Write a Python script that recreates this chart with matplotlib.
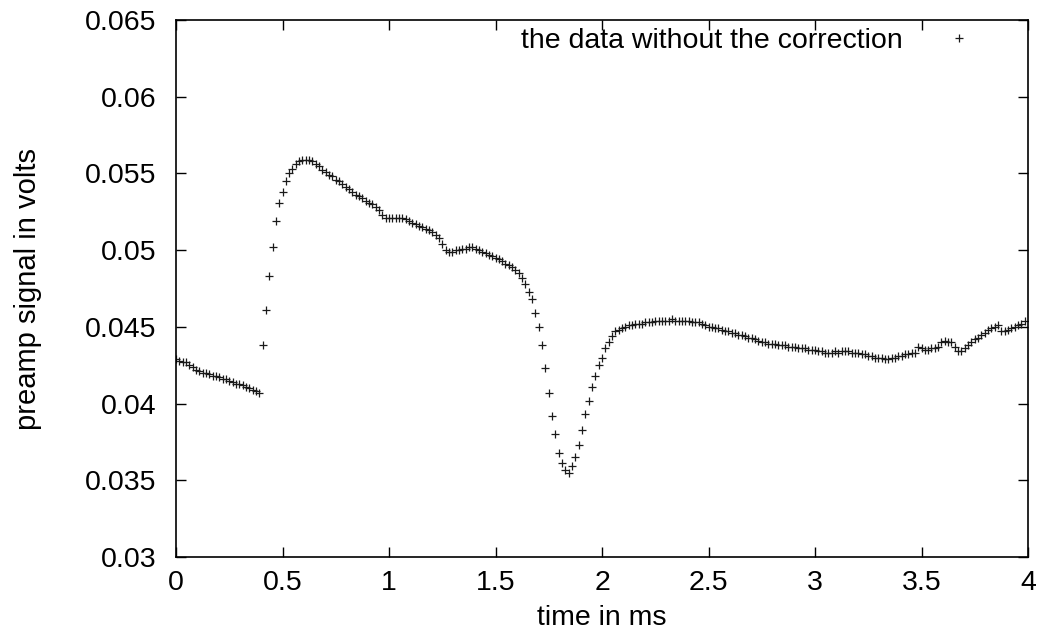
import numpy as np
import matplotlib
matplotlib.use("Agg")
import matplotlib.pyplot as plt

plt.rcParams['font.family'] = ['Liberation Sans', 'DejaVu Sans']

# sample spacing: 1/64 ms
dt = 1.0 / 64.0

signal = [
    # 0.000 - 0.391
    0.0429, 0.0428, 0.0427, 0.0427, 0.0425, 0.0424, 0.0422, 0.0421, 0.0420, 0.0420,
    0.0419, 0.0418, 0.0418, 0.0417, 0.0416, 0.0416, 0.0415, 0.0414, 0.0413, 0.0413,
    0.0412, 0.0411, 0.0410, 0.0409, 0.0408, 0.0407,
    # rise 0.406 - 0.609
    0.0438, 0.0461, 0.0483, 0.0502, 0.0519, 0.0531, 0.0538, 0.0545, 0.0550, 0.0553,
    0.0556, 0.0558, 0.0559, 0.0559,
    # 0.625 - 0.984
    0.05585, 0.0558, 0.0556, 0.0555, 0.0552, 0.0551, 0.0549, 0.0548, 0.0546, 0.0545,
    0.0543, 0.0541, 0.0540, 0.0538, 0.0536, 0.0535, 0.0534, 0.0532, 0.0531, 0.0530,
    0.0528, 0.0526, 0.0523, 0.0521,
    # 1.000 - 1.234
    0.0521, 0.0521, 0.0521, 0.0521, 0.0521, 0.0520, 0.0519, 0.0518, 0.0517, 0.0516,
    0.0515, 0.0514, 0.0513, 0.0512, 0.0510, 0.0508,
    # 1.250 - 1.484
    0.0504, 0.0500, 0.0499, 0.0499, 0.0500, 0.0500, 0.0501, 0.0501, 0.0502, 0.0502,
    0.0501, 0.0500, 0.0499, 0.0498, 0.0497, 0.0496,
    # 1.500 - 1.6875
    0.0495, 0.0494, 0.0493, 0.0491, 0.0490, 0.0489, 0.0487, 0.0485, 0.0482, 0.0478,
    0.0473, 0.0468, 0.0459,
    # dip 1.703 - 2.125
    0.0450, 0.0438, 0.0423, 0.0407, 0.0392, 0.0380, 0.0368, 0.0361, 0.0357, 0.0355,
    0.0359, 0.0365, 0.0373, 0.0383, 0.0393, 0.0402, 0.0411, 0.0418, 0.0425, 0.0430,
    0.0436, 0.0440, 0.0444, 0.0447, 0.0448, 0.0449, 0.0450, 0.0451,
    # 2.141 - 2.484
    0.0451, 0.0452, 0.0452, 0.0452, 0.0453, 0.0453, 0.0453, 0.0454, 0.0454, 0.0454,
    0.0454, 0.0454, 0.0455, 0.0454, 0.0454, 0.0454, 0.0454, 0.0454, 0.0453, 0.0453,
    0.0453, 0.0452, 0.0451,
    # 2.500 - 2.984
    0.0450, 0.0450, 0.0449, 0.0449, 0.0448, 0.0447, 0.0447, 0.0446, 0.0446, 0.0445,
    0.0445, 0.0444, 0.0443, 0.0443, 0.0442, 0.0441, 0.0440, 0.0440, 0.0439, 0.0439,
    0.0439, 0.0438, 0.0438, 0.0438, 0.0437, 0.0437, 0.0437, 0.0436, 0.0436, 0.0436,
    0.0435, 0.0435,
    # 3.000 - 3.484
    0.0435, 0.0434, 0.0434, 0.0433, 0.0433, 0.0433, 0.0434, 0.0433, 0.0434, 0.0434,
    0.0434, 0.0433, 0.0433, 0.0433, 0.0432, 0.0432, 0.0431, 0.0431, 0.0430, 0.0430,
    0.0430, 0.0429, 0.0429, 0.0430, 0.0430, 0.0431, 0.0431, 0.0432, 0.0432, 0.0433,
    0.0433, 0.0437,
    # 3.500 - 3.984
    0.0436, 0.0435, 0.0435, 0.0436, 0.0436, 0.0437, 0.0440, 0.0441, 0.0440, 0.0440,
    0.0437, 0.0434, 0.0434, 0.0436, 0.0438, 0.0440, 0.0442, 0.0443, 0.0445, 0.0446,
    0.0448, 0.0449, 0.0450, 0.0451, 0.0447, 0.0447, 0.0448, 0.0449, 0.0450, 0.0451,
    0.0452, 0.0454,
]
time_ms = np.arange(len(signal)) * dt

x_ticks = [0, 0.5, 1, 1.5, 2, 2.5, 3, 3.5, 4]
x_tick_labels = ["0", "0.5", "1", "1.5", "2", "2.5", "3", "3.5", "4"]
y_ticks = [0.03, 0.035, 0.04, 0.045, 0.05, 0.055, 0.06, 0.065]
y_tick_labels = ["0.03", "0.035", "0.04", "0.045", "0.05", "0.055", "0.06", "0.065"]

FS = 20.5

fig = plt.figure(figsize=(10.42, 6.38), dpi=100)
ax = fig.add_axes([176 / 1042, 1 - 557 / 638, (1028 - 176) / 1042, (557 - 20) / 638])

ax.plot(time_ms, signal, linestyle='none', marker='+', markersize=5.5,
        markeredgewidth=0.9, color='#1a1a1a',
        label='the data without the correction')

ax.set_xlim(0, 4)
ax.set_ylim(0.03, 0.065)
ax.set_xticks(x_ticks)
ax.set_xticklabels(x_tick_labels)
ax.set_yticks(y_ticks)
ax.set_yticklabels(y_tick_labels)
ax.tick_params(direction='in', length=7.5, width=1, top=True, right=True,
               labelsize=FS, colors='black')
ax.tick_params(axis='x', pad=9)
ax.tick_params(axis='y', pad=14)
for s in ax.spines.values():
    s.set_linewidth(1.2)

ax.set_xlabel('time in ms', fontsize=FS, labelpad=7)
ax.set_ylabel('preamp signal in volts', fontsize=21, labelpad=31)

leg = ax.legend(loc='upper right', frameon=False, markerfirst=False,
                fontsize=FS, handlelength=2.0, handletextpad=1.0,
                borderpad=0.0, borderaxespad=0.0,
                bbox_to_anchor=(0.953, 0.985))

fig.savefig('out.png', dpi=100)
